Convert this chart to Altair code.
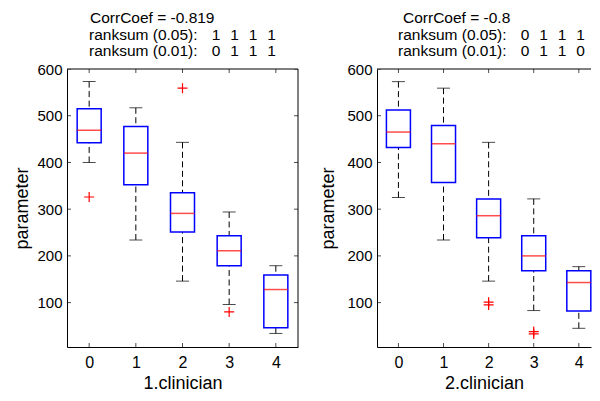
import altair as alt
import pandas as pd

# ---------------- data ----------------
groups = [0, 1, 2, 3, 4]
y_ticks = [100, 200, 300, 400, 500, 600]

c1_upper = [573, 517, 443, 294, 179]
c1_q3 = [515, 477, 335, 243, 159]
c1_median = [469, 420, 291, 211, 128]
c1_q1 = [442, 352, 251, 179, 46]
c1_lower = [400, 234, 146, 96, 34]
c1_out_group = [0, 2, 3]
c1_out_value = [326, 559, 80]

c2_upper = [573, 559, 443, 322, 177]
c2_q3 = [512, 479, 322, 243, 168]
c2_median = [465, 440, 286, 200, 143]
c2_q1 = [432, 357, 239, 168, 82]
c2_lower = [325, 234, 146, 83, 45]
c2_out_group = [2, 2, 3, 3]
c2_out_value = [101, 95, 38, 33]

c1_corr = "-0.819"
c1_rank05 = [1, 1, 1, 1]
c1_rank01 = [0, 1, 1, 1]
c2_corr = "-0.8"
c2_rank05 = [0, 1, 1, 1]
c2_rank01 = [0, 1, 1, 0]

x_titles = ["1.clinician", "2.clinician"]
y_title = "parameter"

# ---------------- style ----------------
FONT = "Liberation Sans"
XMIN, XMAX = -0.475, 4.475
XMAX_RIGHT = 4.27
YMIN, YMAX = 5, 600
H = 278
W_LEFT = 231
W_RIGHT = 214
NB = "\u00a0"
GAP_LABEL = NB * 3 + "\u200a"
GAP_DIGIT = NB * 2 + "\u200a"


def rank_line(label, flags):
    return label + GAP_LABEL + GAP_DIGIT.join(str(f) for f in flags)


def panel(upper, q3, med, q1, lower, og, ov, xlabel, lines, width, xmax_view,
          draw_right, dx_first, dx_rest, ytitle_x):
    df = pd.DataFrame({"g": groups, "upper": upper, "q3": q3, "median": med,
                       "q1": q1, "lower": lower})
    odf = pd.DataFrame({"g": og, "v": ov})
    xt = pd.DataFrame({"t": groups})
    yt = pd.DataFrame({"t": y_ticks})
    one = pd.DataFrame({"a": [0]})

    xs = alt.Scale(domain=[XMIN, xmax_view], nice=False, zero=False, padding=0)
    ys = alt.Scale(domain=[YMIN, YMAX], nice=False, zero=False, padding=0)
    xax = alt.Axis(values=groups, format="d", title=xlabel, grid=False, ticks=False,
                   tickSize=0, domainColor="black", domainWidth=1, labelFont=FONT,
                   labelFontSize=16, labelColor="black", labelPadding=7,
                   labelFlush=False, labelOverlap=False, titleFont=FONT,
                   titleFontSize=18, titleFontWeight="normal", titleColor="black",
                   titlePadding=4)
    yax = alt.Axis(values=y_ticks, format="d", title=y_title, grid=False, ticks=False,
                   tickSize=0, domainColor="black", domainWidth=1, labelFont=FONT,
                   labelFontSize=15, labelColor="black", labelPadding=5,
                   labelFlush=False, labelOverlap=False, titleFont=FONT,
                   titleFontSize=18, titleFontWeight="normal", titleColor="black",
                   titleX=ytitle_x, titleY=H / 2)

    def X(f):
        return alt.X(f, type="quantitative", scale=xs, axis=xax)

    def Y(f):
        return alt.Y(f, type="quantitative", scale=ys, axis=yax)

    dash = [6, 3.5]
    base = alt.Chart(df)
    wh_hi = base.mark_rule(color="black", strokeWidth=1, strokeDash=dash).encode(
        x=X("g"), y=Y("upper"), y2="q3")
    wh_lo = base.mark_rule(color="black", strokeWidth=1, strokeDash=dash).encode(
        x=X("g"), y=Y("lower"), y2="q1")
    cap_hi = base.mark_tick(orient="horizontal", size=13, thickness=1, color="black").encode(
        x=X("g"), y=Y("upper"))
    cap_lo = base.mark_tick(orient="horizontal", size=13, thickness=1, color="black").encode(
        x=X("g"), y=Y("lower"))
    box = base.mark_bar(orient="vertical", size=24, fill="white", stroke="#0000ff",
                        strokeWidth=1.5).encode(x=X("g"), y=Y("q1"), y2="q3")
    medl = base.mark_tick(orient="horizontal", size=24, thickness=1.5, color="#ff0000").encode(
        x=X("g"), y=Y("median"))
    outl = alt.Chart(odf).mark_point(shape="M-1,0H1M0,-1V1", size=100, filled=False,
                                     color="#ff0000", strokeWidth=1.2, opacity=1).encode(
        x=X("g"), y=Y("v"))

    xend = XMAX if draw_right else xmax_view
    top = alt.Chart(one).mark_rule(color="black", strokeWidth=1).encode(
        x=alt.datum(XMIN), x2=alt.datum(xend), y=alt.datum(YMAX))
    tk_b = alt.Chart(xt).mark_tick(orient="vertical", size=8, thickness=1, color="black",
                                   clip=True).encode(x=X("t"), y=alt.datum(YMIN))
    tk_t = alt.Chart(xt).mark_tick(orient="vertical", size=8, thickness=1, color="black",
                                   clip=True).encode(x=X("t"), y=alt.datum(YMAX))
    tk_l = alt.Chart(yt).mark_tick(orient="horizontal", size=8, thickness=1, color="black",
                                   clip=True).encode(y=Y("t"), x=alt.datum(XMIN))
    layers = [wh_hi, wh_lo, cap_hi, cap_lo, box, medl, outl, top, tk_b, tk_t, tk_l]
    if draw_right:
        right = alt.Chart(one).mark_rule(color="black", strokeWidth=1).encode(
            x=alt.datum(XMAX), y=alt.datum(YMIN), y2=alt.datum(YMAX))
        tk_r = alt.Chart(yt).mark_tick(orient="horizontal", size=8, thickness=1,
                                       color="black", clip=True).encode(
            y=Y("t"), x=alt.datum(XMAX))
        layers += [right, tk_r]

    specs = [("top", -58), ("alphabetic", -29.5), ("alphabetic", -13.3)]
    for i, line in enumerate(lines):
        dx = dx_first if i == 0 else dx_rest
        bl, yy = specs[i]
        layers.append(alt.Chart(one).mark_text(align="left", baseline=bl, font=FONT,
                                               fontSize=15.5, color="black").encode(
            x=alt.value(dx), y=alt.value(yy), text=alt.value(line)))

    return alt.layer(*layers).properties(width=width, height=H)


lines1 = ["CorrCoef = " + c1_corr, rank_line("ranksum (0.05):", c1_rank05),
          rank_line("ranksum (0.01):", c1_rank01)]
lines2 = ["CorrCoef = " + c2_corr, rank_line("ranksum (0.05):", c2_rank05),
          rank_line("ranksum (0.01):", c2_rank01)]

left = panel(c1_upper, c1_q3, c1_median, c1_q1, c1_lower, c1_out_group, c1_out_value,
             x_titles[0], lines1, W_LEFT, XMAX, True, 23, 22, -36)
right = panel(c2_upper, c2_q3, c2_median, c2_q1, c2_lower, c2_out_group, c2_out_value,
              x_titles[1], lines2, W_RIGHT, XMAX_RIGHT, False, 26, 21, -40)

chart = alt.hconcat(left, right, spacing=79, bounds="flush").properties(
    padding={"left": 5, "top": 3, "right": 0, "bottom": 0}
).configure_view(stroke=None)

chart.save("out.html", embed_options={"renderer": "svg", "actions": False})
